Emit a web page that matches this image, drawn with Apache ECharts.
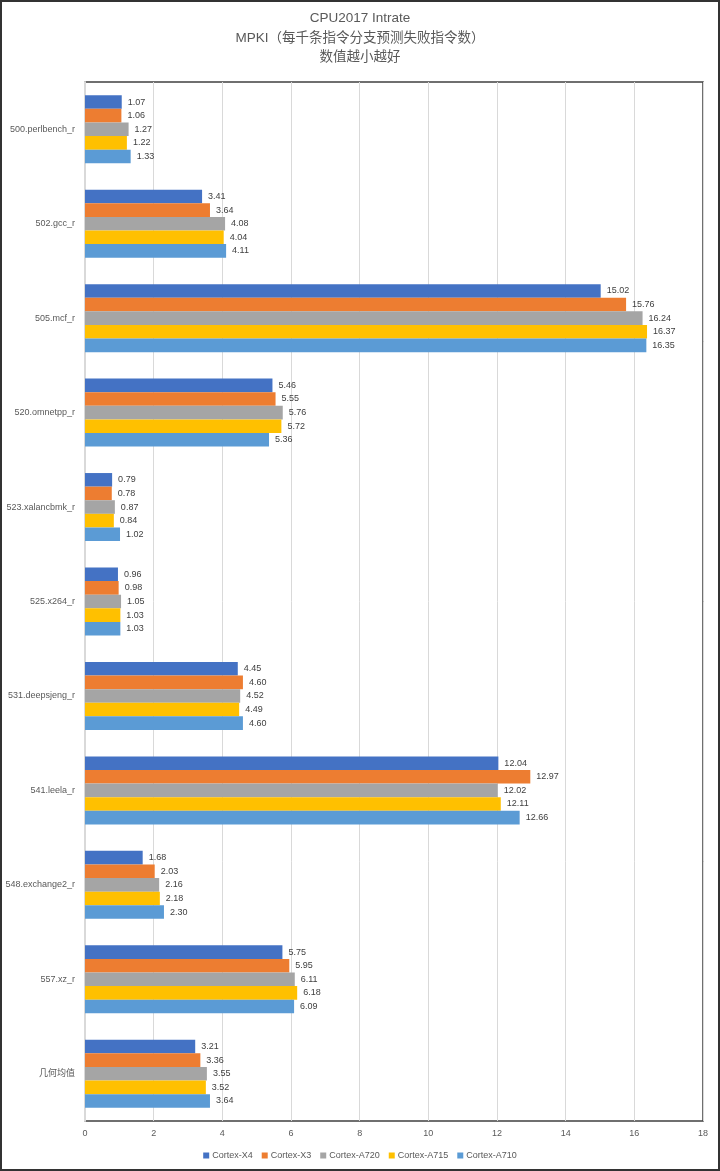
<!DOCTYPE html>
<html>
<head>
<meta charset="utf-8">
<script src="https://cdn.jsdelivr.net/npm/echarts@6/dist/echarts.min.js"></script>
<style>
html,body{margin:0;padding:0;background:#fff;}
#chart{width:720px;height:1171px;}
</style>
</head>
<body>
<div id="chart"></div>
<script>
const titleLines = ['CPU2017 Intrate', 'MPKI（每千条指令分支预测失败指令数）', '数值越小越好'];
const categories = ['500.perlbench_r', '502.gcc_r', '505.mcf_r', '520.omnetpp_r', '523.xalancbmk_r', '525.x264_r', '531.deepsjeng_r', '541.leela_r', '548.exchange2_r', '557.xz_r', '几何均值'];
const seriesNames = ['Cortex-X4', 'Cortex-X3', 'Cortex-A720', 'Cortex-A715', 'Cortex-A710'];
const x4   = [1.07, 3.41, 15.02, 5.46, 0.79, 0.96, 4.45, 12.04, 1.68, 5.75, 3.21];
const x3   = [1.06, 3.64, 15.76, 5.55, 0.78, 0.98, 4.60, 12.97, 2.03, 5.95, 3.36];
const a720 = [1.27, 4.08, 16.24, 5.76, 0.87, 1.05, 4.52, 12.02, 2.16, 6.11, 3.55];
const a715 = [1.22, 4.04, 16.37, 5.72, 0.84, 1.03, 4.49, 12.11, 2.18, 6.18, 3.52];
const a710 = [1.33, 4.11, 16.35, 5.36, 1.02, 1.03, 4.60, 12.66, 2.30, 6.09, 3.64];
const seriesValues = [x4, x3, a720, a715, a710];
const colors = ['#4472C4', '#ED7D31', '#A5A5A5', '#FFC000', '#5B9BD5'];
const xTicks = {min: 0, max: 18, interval: 2};

const FONT = "'Liberation Sans', 'Noto Sans CJK SC', sans-serif";
const chart = echarts.init(document.getElementById('chart'), null, {renderer: 'canvas'});

const series = seriesNames.map((name, i) => ({
  name: name,
  type: 'bar',
  data: seriesValues[i],
  barGap: '0%',
  barCategoryGap: '28%',
  itemStyle: {color: colors[i]},
  label: {
    show: true,
    position: 'right',
    distance: 6,
    color: '#404040',
    fontSize: 9,
    fontFamily: FONT,
    formatter: p => p.value.toFixed(2)
  },
  emphasis: {disabled: true},
  animation: false
}));

chart.setOption({
  animation: false,
  backgroundColor: '#ffffff',
  title: {
    text: titleLines.join('\n'),
    left: 'center',
    top: 4,
    textStyle: {
      color: '#595959',
      fontSize: 13.5,
      fontWeight: 'normal',
      fontFamily: FONT,
      lineHeight: 19.5
    }
  },
  legend: {
    data: seriesNames,
    top: 1146,
    left: 'center',
    icon: 'rect',
    itemWidth: 6,
    itemHeight: 6,
    itemGap: 9,
    textStyle: {color: '#595959', fontSize: 9, fontFamily: FONT, padding: [0, 0, 0, -2]}
  },
  grid: {
    left: 85,
    right: 17,
    top: 82,
    bottom: 50,
    show: true,
    borderColor: '#404040',
    borderWidth: 1.5,
    containLabel: false
  },
  xAxis: {
    type: 'value',
    min: xTicks.min,
    max: xTicks.max,
    interval: xTicks.interval,
    axisLine: {show: false},
    axisTick: {show: false},
    splitLine: {show: true, lineStyle: {color: '#D9D9D9', width: 1}},
    axisLabel: {color: '#595959', fontSize: 9, fontFamily: FONT, margin: 8}
  },
  yAxis: {
    type: 'category',
    data: categories,
    inverse: true,
    axisLine: {show: true, lineStyle: {color: '#D9D9D9', width: 2}},
    axisTick: {show: false},
    axisLabel: {color: '#595959', fontSize: 9, fontFamily: FONT, margin: 10}
  },
  graphic: [{
    type: 'rect',
    shape: {x: 1, y: 1, width: 718, height: 1169},
    style: {fill: 'none', stroke: '#333333', lineWidth: 2},
    silent: true
  }],
  series: series
});
</script>
</body>
</html>
